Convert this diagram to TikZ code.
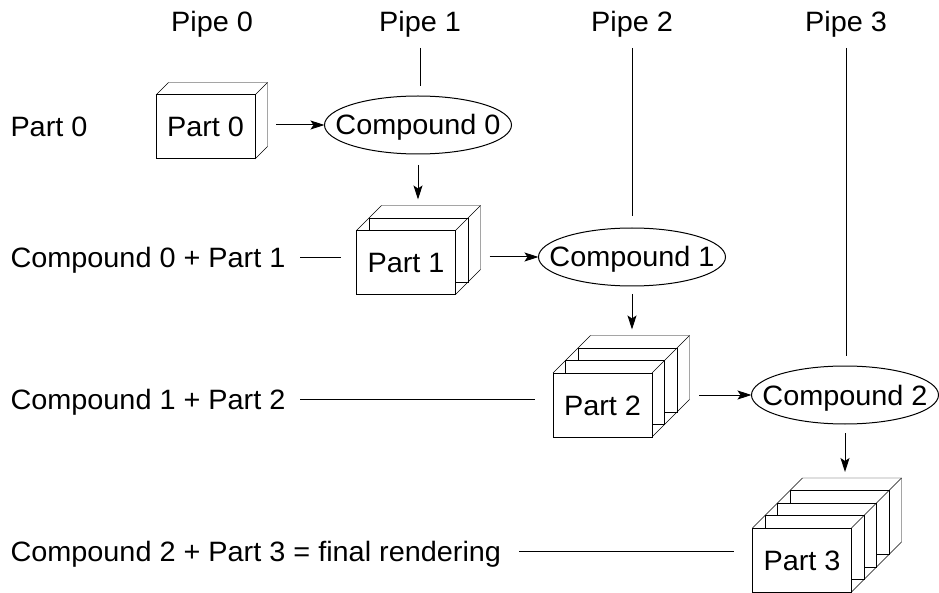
\documentclass[tikz,border=0pt]{standalone}
\usepackage{fontspec}
\setmainfont{Liberation Sans}[FakeStretch=1.03]
\usetikzlibrary{shapes.geometric,arrows.meta,backgrounds}

\tikzset{
  lbl/.style={inner sep=0pt, outer sep=0pt, text height=20pt, text depth=0pt},
  cmpd/.style={ellipse, draw, fill=white, minimum width=187pt, minimum height=58pt,
    inner xsep=-20pt, inner ysep=0pt, outer sep=0pt, text height=20pt, text depth=0pt},
  crate/.style={draw, fill=white, minimum width=99pt, minimum height=64pt,
    inner sep=0pt, outer sep=0pt, text height=20pt, text depth=0pt},
  arr/.style={-{Stealth[length=14pt,width=9pt,inset=3pt]}},
}

% Stacked part box: #1 = front node, #2 = number of slices in depth
\newcommand{\crateback}[2]{%
  \begin{scope}[on background layer]
    \pgfmathsetmacro{\crD}{#2*12.5}
    \pgfmathtruncatemacro{\crinner}{#2-1}
    \ifnum\crinner>0
      \foreach \k in {\crinner,...,1}{
        \pgfmathsetmacro{\croff}{\k*12.5}
        \draw[fill=white] ([xshift=\croff pt, yshift=\croff pt]#1.north west)
          rectangle ([xshift=\croff pt, yshift=\croff pt]#1.south east);
      }
    \fi
    \coordinate (#1-bnw) at ([xshift=\crD pt, yshift=\crD pt]#1.north west);
    \coordinate (#1-bne) at ([xshift=\crD pt, yshift=\crD pt]#1.north east);
    \coordinate (#1-bse) at ([xshift=\crD pt, yshift=\crD pt]#1.south east);
    \draw (#1.north west) -- (#1-bnw) -- (#1-bne) -- (#1-bse) -- (#1.south east);
    \draw (#1.north east) -- (#1-bne);
  \end{scope}}

\begin{document}
\begin{tikzpicture}[x=1pt, y=-1pt, line width=1pt, font=\fontsize{28}{34}\selectfont]
  \begin{scope}[on background layer]
    \fill[white] (0,0) rectangle (939,593);
  \end{scope}
  \useasboundingbox (0,0) rectangle (939,593);

  % pipe headings
  \node[lbl] (pipe0) at (212,22) {Pipe 0};
  \node[lbl] (pipe1) at (420,22) {Pipe 1};
  \node[lbl] (pipe2) at (632,22) {Pipe 2};
  \node[lbl] (pipe3) at (846,22) {Pipe 3};

  % row labels
  \node[lbl, anchor=west] (r0) at (10.5,127) {Part 0};
  \node[lbl, anchor=west] (r1) at (10.5,258) {Compound 0 + Part 1};
  \node[lbl, anchor=west] (r2) at (10.5,399) {Compound 1 + Part 2};
  \node[lbl, anchor=west] (r3) at (10.5,551) {Compound 2 + Part 3 = final rendering};

  % part boxes
  \node[crate] (p0) at (205.5,127) {Part 0};
  \node[crate] (p1) at (406,262.5) {Part 1};
  \node[crate] (p2) at (602.5,405) {Part 2};
  \node[crate] (p3) at (802,560) {Part 3};
  \crateback{p0}{1}
  \crateback{p1}{2}
  \crateback{p2}{3}
  \crateback{p3}{4}

  % compounds
  \node[cmpd] (c0) at (418,125) {Compound 0};
  \node[cmpd] (c1) at (632,257) {Compound 1};
  \node[cmpd] (c2) at (845,395) {Compound 2};

  % pipe lines
  \draw ([yshift=-16pt]pipe1.south) -- ([yshift=10pt]c0.north -| pipe1.south);
  \draw ([yshift=-16pt]pipe2.south) -- ([yshift=12pt]c1.north -| pipe2.south);
  \draw ([yshift=-16pt]pipe3.south) -- ([yshift=10pt]c2.north -| pipe3.south);

  % row leaders
  \draw ([xshift=15pt]r1.east) -- ([xshift=-16pt]p1.west |- r1.east);
  \draw ([xshift=15pt]r2.east) -- ([xshift=-18pt]p2.west |- r2.east);
  \draw ([xshift=18pt]r3.east) -- ([xshift=-19pt]p3.west |- r3.east);

  % part -> compound
  \draw[arr] ([xshift=21pt]p0.east |- c0.center) -- (c0.west);
  \draw[arr] ([xshift=34pt]p1.east |- c1.center) -- (c1.west);
  \draw[arr] ([xshift=47pt]p2.east |- c2.center) -- (c2.west);

  % compound -> next part
  \draw[arr] ([yshift=-11pt]c0.south) -- ([yshift=31pt]p1.north -| c0.south);
  \draw[arr] ([yshift=-8pt]c1.south) -- ([yshift=43.5pt]p2.north -| c1.south);
  \draw[arr] ([yshift=-9pt]c2.south) -- ([yshift=56pt]p3.north -| c2.south);
\end{tikzpicture}
\end{document}
